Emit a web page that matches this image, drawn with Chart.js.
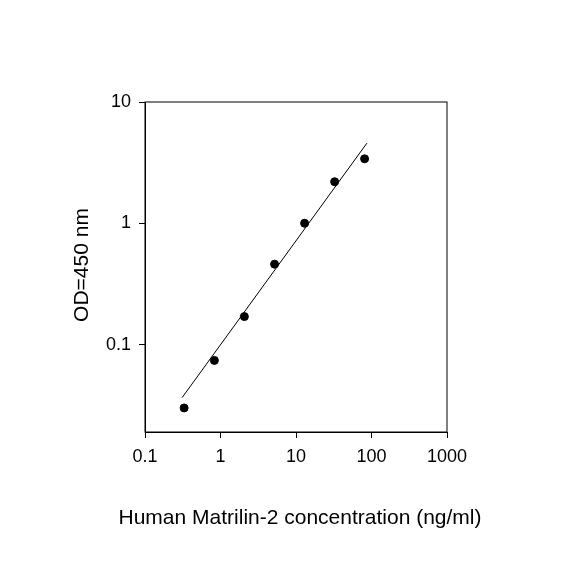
<!DOCTYPE html><html><head><script src="https://cdn.jsdelivr.net/npm/chart.js@4"></script>
<style>body{margin:0;background:#fff}#w{width:584px;height:584px}</style></head><body><div id="w"><canvas id="c"></canvas></div>
<script>
const concentrations=[0.33,0.83,2.07,5.2,13,32.5,81];
const odValues=[0.030,0.074,0.17,0.46,1.0,2.2,3.4];
const fitX=[0.31,87];
const fitY=[0.0365,4.58];
const xTicks=[0.1,1,10,100,1000];
const yTicks=[0.1,1,10];
const xTitle='Human Matrilin-2 concentration (ng/ml)';
const yTitle='OD=450 nm';
const fam='Arial, "Liberation Sans"';
const font={family:fam,size:18};
const box={id:'box',afterDraw(c){const a=c.chartArea,x=c.ctx;x.save();x.strokeStyle='#000';x.lineWidth=1;x.strokeRect(a.left,a.top,a.right-a.left,a.bottom-a.top);
x.fillStyle='#000';x.font='21px '+fam;x.textAlign='center';x.textBaseline='middle';
x.fillText(xTitle,300,518);x.translate(82,265);x.rotate(-Math.PI/2);x.fillText(yTitle,0,0);x.restore();}};
new Chart(document.getElementById('c'),{type:'scatter',
data:{datasets:[
{data:concentrations.map((v,i)=>({x:v,y:odValues[i]})),backgroundColor:'#000',borderColor:'#000',pointRadius:4},
{data:fitX.map((v,i)=>({x:v,y:fitY[i]})),showLine:true,borderColor:'#000',borderWidth:1,pointRadius:0}]},
options:{animation:false,responsive:true,maintainAspectRatio:false,
layout:{padding:{top:102,right:137,left:0,bottom:0}},
plugins:{legend:{display:false},tooltip:{enabled:false}},
scales:{
x:{type:'logarithmic',min:0.1,max:1000,afterBuildTicks:s=>{s.ticks=xTicks.map(v=>({value:v}))},
ticks:{color:'#000',font,callback:v=>String(v),maxRotation:0,padding:8},
grid:{drawOnChartArea:false,color:'#000',tickLength:6},border:{color:'#000'},
afterFit:s=>{s.height=152}},
y:{type:'logarithmic',min:0.019,max:10,afterBuildTicks:s=>{s.ticks=yTicks.map(v=>({value:v}))},
ticks:{color:'#000',font,callback:v=>String(v),padding:8},
grid:{drawOnChartArea:false,color:'#000',tickLength:6},border:{color:'#000'},
afterFit:s=>{s.width=145}}}},
plugins:[box]});
</script></body></html>
